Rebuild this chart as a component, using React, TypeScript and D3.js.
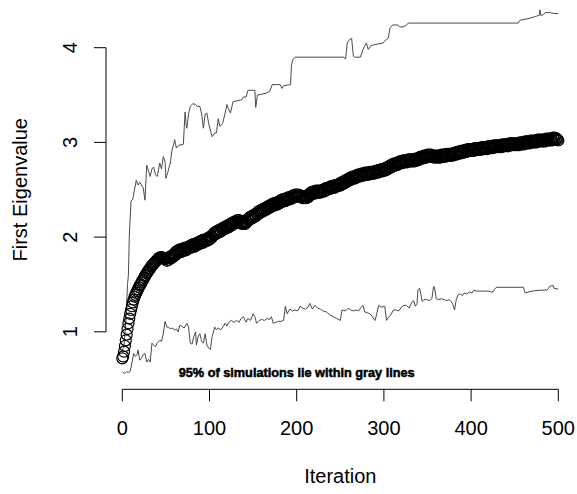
import React from "react";
import * as d3 from "d3";

const W = 577;
const H = 494;

// Mean first eigenvalue per iteration, 0..500
const circleVal = [
  0.72, 0.74, 0.79, 0.85, 0.91, 0.97, 1.03, 1.09, 1.14, 1.19,
  1.23, 1.27, 1.31, 1.34, 1.37, 1.39, 1.41, 1.43, 1.45, 1.47,
  1.49, 1.50, 1.52, 1.54, 1.55, 1.57, 1.59, 1.60, 1.62, 1.63,
  1.65, 1.66, 1.67, 1.69, 1.70, 1.71, 1.72, 1.73, 1.74, 1.75,
  1.76, 1.77, 1.78, 1.78, 1.79, 1.79, 1.78, 1.78, 1.77, 1.77,
  1.77, 1.75, 1.78, 1.76, 1.79, 1.78, 1.80, 1.78, 1.81, 1.80,
  1.83, 1.81, 1.85, 1.83, 1.86, 1.84, 1.87, 1.84, 1.87, 1.85,
  1.88, 1.86, 1.89, 1.86, 1.89, 1.88, 1.90, 1.88, 1.91, 1.89,
  1.92, 1.90, 1.93, 1.90, 1.93, 1.92, 1.94, 1.92, 1.95, 1.93,
  1.96, 1.94, 1.97, 1.94, 1.97, 1.96, 1.98, 1.96, 1.99, 1.97,
  2.00, 1.98, 2.01, 2.00, 2.03, 2.02, 2.05, 2.03, 2.06, 2.05,
  2.07, 2.05, 2.08, 2.06, 2.09, 2.08, 2.10, 2.08, 2.11, 2.10,
  2.12, 2.10, 2.13, 2.11, 2.14, 2.13, 2.15, 2.13, 2.16, 2.15,
  2.17, 2.15, 2.18, 2.16, 2.18, 2.15, 2.17, 2.14, 2.16, 2.14,
  2.16, 2.14, 2.17, 2.16, 2.19, 2.18, 2.21, 2.19, 2.22, 2.20,
  2.23, 2.21, 2.24, 2.22, 2.25, 2.24, 2.27, 2.25, 2.28, 2.26,
  2.29, 2.27, 2.30, 2.28, 2.31, 2.29, 2.32, 2.30, 2.33, 2.31,
  2.34, 2.32, 2.35, 2.33, 2.36, 2.34, 2.36, 2.34, 2.37, 2.35,
  2.38, 2.36, 2.39, 2.37, 2.40, 2.38, 2.40, 2.38, 2.41, 2.39,
  2.42, 2.40, 2.42, 2.40, 2.43, 2.41, 2.44, 2.42, 2.45, 2.43,
  2.45, 2.43, 2.45, 2.43, 2.44, 2.42, 2.43, 2.41, 2.43, 2.41,
  2.43, 2.41, 2.44, 2.42, 2.45, 2.44, 2.47, 2.45, 2.48, 2.46,
  2.48, 2.46, 2.49, 2.47, 2.49, 2.47, 2.49, 2.47, 2.49, 2.48,
  2.50, 2.48, 2.51, 2.49, 2.52, 2.50, 2.52, 2.51, 2.53, 2.51,
  2.54, 2.52, 2.54, 2.52, 2.55, 2.53, 2.55, 2.54, 2.56, 2.54,
  2.57, 2.55, 2.58, 2.56, 2.59, 2.57, 2.60, 2.58, 2.61, 2.59,
  2.62, 2.60, 2.63, 2.61, 2.64, 2.62, 2.64, 2.62, 2.65, 2.63,
  2.66, 2.64, 2.66, 2.64, 2.67, 2.65, 2.67, 2.65, 2.68, 2.66,
  2.68, 2.66, 2.68, 2.66, 2.69, 2.67, 2.69, 2.67, 2.69, 2.67,
  2.70, 2.68, 2.70, 2.68, 2.71, 2.69, 2.71, 2.69, 2.72, 2.70,
  2.72, 2.70, 2.73, 2.71, 2.74, 2.72, 2.75, 2.73, 2.76, 2.74,
  2.77, 2.75, 2.78, 2.76, 2.78, 2.76, 2.79, 2.77, 2.80, 2.78,
  2.80, 2.78, 2.81, 2.79, 2.81, 2.79, 2.81, 2.79, 2.82, 2.80,
  2.82, 2.80, 2.82, 2.80, 2.82, 2.80, 2.83, 2.81, 2.83, 2.81,
  2.84, 2.82, 2.85, 2.83, 2.85, 2.83, 2.86, 2.84, 2.86, 2.84,
  2.87, 2.85, 2.87, 2.85, 2.87, 2.85, 2.86, 2.84, 2.86, 2.84,
  2.86, 2.84, 2.86, 2.84, 2.86, 2.84, 2.87, 2.85, 2.87, 2.85,
  2.87, 2.85, 2.88, 2.86, 2.88, 2.86, 2.88, 2.86, 2.88, 2.86,
  2.89, 2.87, 2.89, 2.87, 2.90, 2.88, 2.90, 2.88, 2.91, 2.89,
  2.91, 2.89, 2.92, 2.90, 2.92, 2.90, 2.93, 2.91, 2.93, 2.91,
  2.93, 2.91, 2.93, 2.91, 2.94, 2.92, 2.94, 2.92, 2.94, 2.92,
  2.94, 2.92, 2.95, 2.93, 2.95, 2.93, 2.95, 2.93, 2.95, 2.93,
  2.96, 2.94, 2.96, 2.94, 2.96, 2.94, 2.97, 2.95, 2.97, 2.95,
  2.97, 2.95, 2.97, 2.95, 2.97, 2.95, 2.98, 2.96, 2.98, 2.96,
  2.98, 2.96, 2.98, 2.96, 2.99, 2.97, 2.99, 2.97, 2.99, 2.97,
  2.99, 2.97, 2.99, 2.97, 2.99, 2.97, 3.00, 2.98, 3.00, 2.98,
  3.00, 2.98, 3.01, 2.99, 3.01, 2.99, 3.01, 2.99, 3.02, 3.00,
  3.02, 3.00, 3.02, 3.00, 3.02, 3.00, 3.03, 3.01, 3.03, 3.01,
  3.03, 3.01, 3.03, 3.01, 3.03, 3.01, 3.04, 3.02, 3.04, 3.02,
  3.04, 3.02, 3.04, 3.02, 3.05, 3.03, 3.05, 3.03, 3.04, 3.03,
  3.02,
];

const upperIter = [
  0, 2, 4, 6, 7, 8, 9, 10, 12, 14, 16, 18, 20, 22, 24, 26, 28, 30, 32, 34,
  36, 38, 40, 43, 45, 47, 49, 50, 52, 55, 57, 59, 60, 62, 65, 70, 72, 73, 74, 76,
  78, 81, 84, 86, 89, 91, 93, 95, 97, 99, 101, 103, 106, 108, 110, 112, 115, 118, 120, 122,
  124, 127, 132, 137, 139, 142, 144, 152, 153, 155, 160, 165, 169, 172, 181, 183, 185, 193, 194, 196,
  198, 254, 256, 258, 260, 263, 265, 266, 273, 276, 278, 280, 282, 285, 288, 299, 303, 305, 307, 310,
  316, 318, 322, 326, 328, 454, 456, 467, 474, 477, 478, 479, 480, 483, 485, 491, 495, 500,
];
const upperVal = [
  0.80, 0.86, 1.10, 1.50, 1.60, 2.00, 2.20, 2.38, 2.40, 2.50, 2.60, 2.55, 2.58, 2.55, 2.52, 2.39, 2.76, 2.70, 2.64, 2.72,
  2.74, 2.66, 2.64, 2.78, 2.72, 2.85, 2.80, 2.62, 2.68, 2.78, 2.92, 2.98, 3.03, 2.94, 2.97, 2.98, 3.32, 3.20, 3.15, 3.30,
  3.38, 3.41, 3.40, 3.38, 3.38, 3.30, 3.15, 3.30, 3.31, 3.20, 3.13, 3.06, 3.10, 3.10, 3.25, 3.17, 3.20, 3.31, 3.40, 3.35,
  3.31, 3.43, 3.44, 3.45, 3.48, 3.48, 3.55, 3.55, 3.37, 3.50, 3.51, 3.52, 3.54, 3.61, 3.61, 3.57, 3.60, 3.61, 3.82, 3.88,
  3.90, 3.90, 3.88, 4.05, 4.08, 4.10, 3.91, 3.90, 3.90, 3.98, 4.02, 4.05, 3.98, 4.02, 4.03, 4.05, 4.09, 4.10, 4.21, 4.24,
  4.24, 4.22, 4.22, 4.24, 4.26, 4.26, 4.29, 4.31, 4.33, 4.34, 4.34, 4.40, 4.34, 4.35, 4.37, 4.37, 4.36, 4.36,
];

const lowerIter = [
  0, 1, 3, 5, 7, 9, 11, 13, 15, 17, 18, 20, 22, 24, 26, 28, 30, 32, 34, 36,
  38, 40, 43, 45, 47, 49, 51, 53, 55, 57, 60, 62, 64, 66, 68, 71, 74, 76, 78, 80,
  82, 84, 85, 87, 89, 91, 93, 95, 97, 99, 101, 103, 106, 108, 110, 113, 116, 118, 120, 122,
  125, 128, 131, 134, 136, 139, 142, 144, 147, 150, 152, 154, 157, 160, 163, 166, 169, 171, 173, 176,
  179, 182, 185, 187, 189, 192, 195, 198, 201, 204, 207, 210, 213, 215, 218, 221, 224, 227, 230, 234,
  238, 242, 246, 250, 252, 256, 259, 262, 265, 268, 271, 274, 276, 278, 281, 284, 287, 289, 290, 292,
  294, 297, 301, 303, 305, 308, 311, 314, 317, 320, 323, 326, 329, 332, 334, 336, 338, 339, 341, 344,
  346, 349, 352, 355, 357, 358, 360, 363, 366, 369, 372, 375, 377, 379, 381, 383, 385, 388, 390, 392,
  395, 398, 401, 403, 406, 410, 415, 420, 423, 425, 427, 429, 460, 461, 462, 466, 470, 480, 487, 489,
  490, 494, 495, 500,
];
const lowerVal = [
  0.58, 0.57, 0.56, 0.58, 0.57, 0.58, 0.67, 0.77, 0.74, 0.76, 0.81, 0.70, 0.72, 0.76, 0.77, 0.68, 0.71, 0.68, 0.88, 0.86,
  0.84, 0.88, 0.91, 0.90, 0.98, 1.11, 1.05, 1.05, 1.03, 1.04, 1.02, 1.03, 1.00, 1.07, 1.06, 1.04, 1.09, 1.05, 0.88, 0.87,
  0.95, 1.00, 0.86, 0.95, 0.98, 0.90, 0.88, 0.98, 0.86, 0.83, 0.81, 0.95, 1.05, 1.02, 1.04, 1.02, 1.06, 1.09, 1.06, 1.10,
  1.12, 1.10, 1.12, 1.10, 1.14, 1.16, 1.10, 1.14, 1.12, 1.19, 1.16, 1.09, 1.12, 1.13, 1.12, 1.14, 1.13, 1.16, 1.09, 1.10,
  1.11, 1.11, 1.12, 1.27, 1.19, 1.24, 1.22, 1.23, 1.22, 1.27, 1.25, 1.24, 1.26, 1.30, 1.24, 1.28, 1.25, 1.24, 1.22, 1.21,
  1.18, 1.16, 1.14, 1.12, 1.23, 1.22, 1.25, 1.23, 1.22, 1.23, 1.22, 1.26, 1.28, 1.21, 1.20, 1.19, 1.16, 1.13, 1.12, 1.20,
  1.28, 1.26, 1.27, 1.12, 1.15, 1.18, 1.23, 1.23, 1.22, 1.26, 1.28, 1.28, 1.25, 1.31, 1.33, 1.27, 1.30, 1.44, 1.46, 1.32,
  1.34, 1.34, 1.33, 1.35, 1.48, 1.47, 1.35, 1.34, 1.35, 1.34, 1.33, 1.34, 1.32, 1.29, 1.23, 1.34, 1.39, 1.40, 1.38, 1.41,
  1.40, 1.42, 1.41, 1.44, 1.43, 1.43, 1.43, 1.43, 1.42, 1.42, 1.45, 1.47, 1.47, 1.44, 1.41, 1.42, 1.43, 1.44, 1.44, 1.46,
  1.48, 1.49, 1.46, 1.45,
];

const xTicks = [0, 100, 200, 300, 400, 500];
const yTicks = [1, 2, 3, 4];
const xLabel = "Iteration";
const yLabel = "First Eigenvalue";
const note = "95% of simulations lie within gray lines";

export default function App() {
  const x = d3.scaleLinear().domain([0, 500]).range([122.3, 558.3]);
  const y = d3.scaleLinear().domain([1, 4]).range([331.8, 47.7]);

  const line = d3
    .line<[number, number]>()
    .x((d) => x(d[0]))
    .y((d) => y(d[1]));
  const upper = upperIter.map((it, i) => [it, upperVal[i]] as [number, number]);
  const lower = lowerIter.map((it, i) => [it, lowerVal[i]] as [number, number]);

  const font = "Liberation Sans, Arial, Helvetica, sans-serif";
  const axisX = 106;
  const axisY = 389.3;

  return (
    <svg
      width={W}
      height={H}
      style={{ position: "absolute", left: 0, top: 0, background: "#fff" }}
      fontFamily={font}
    >
      <rect x={0} y={0} width={W} height={H} fill="#fff" />
      <path d={line(upper) || ""} fill="none" stroke="#4a4a4a" strokeWidth={1} />
      <path d={line(lower) || ""} fill="none" stroke="#4a4a4a" strokeWidth={1} />
      {circleVal.map((v, i) => (
        <circle
          key={i}
          cx={x(i)}
          cy={y(v)}
          r={5.5}
          fill="none"
          stroke="#000"
          strokeWidth={1.2}
        />
      ))}
      <text
        x={x(200)}
        y={377.3}
        textAnchor="middle"
        fontWeight="bold"
        fontSize={12.5}
        textLength={236}
        lengthAdjust="spacingAndGlyphs"
        stroke="#000"
        strokeWidth={0.5}
      >
        {note}
      </text>
      {/* x axis */}
      <line x1={x(0)} x2={x(500)} y1={axisY} y2={axisY} stroke="#000" strokeWidth={1} />
      {xTicks.map((t) => (
        <g key={t}>
          <line x1={x(t)} x2={x(t)} y1={axisY} y2={axisY + 12} stroke="#000" strokeWidth={1} />
          <text x={x(t)} y={435} textAnchor="middle" fontSize={20}>
            {t}
          </text>
        </g>
      ))}
      {/* y axis */}
      <line x1={axisX} x2={axisX} y1={y(1)} y2={y(4)} stroke="#000" strokeWidth={1} />
      {yTicks.map((t) => (
        <g key={t}>
          <line x1={axisX - 12} x2={axisX} y1={y(t)} y2={y(t)} stroke="#000" strokeWidth={1} />
          <text
            transform={`translate(77,${y(t)}) rotate(-90)`}
            textAnchor="middle"
            fontSize={20}
          >
            {t}
          </text>
        </g>
      ))}
      <text x={x(250)} y={483} textAnchor="middle" fontSize={20}>
        {xLabel}
      </text>
      <text
        transform={`translate(27,${(y(1) + y(4)) / 2}) rotate(-90)`}
        textAnchor="middle"
        fontSize={20}
      >
        {yLabel}
      </text>
    </svg>
  );
}
